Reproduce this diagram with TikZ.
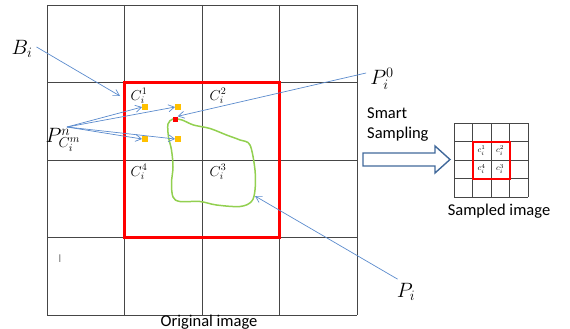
\documentclass[tikz,border=0pt]{standalone}
\usepackage{fontspec}
\setmainfont{Carlito}
\usepackage{xcolor}
\usetikzlibrary{arrows.meta, positioning, calc}

\definecolor{ptrblue}{RGB}{91,139,205}
\definecolor{arrowblue}{RGB}{65,105,155}
\definecolor{dotyellow}{RGB}{255,192,0}
\definecolor{curvegreen}{RGB}{146,208,80}
\definecolor{gridgray}{RGB}{70,70,70}

\begin{document}
\begin{tikzpicture}[
    x=1pt, y=-1pt,
    cellline/.style={draw=gridgray, line width=0.9pt},
    redbox/.style={draw=red, line width=2.4pt},
    ptr/.style={draw=ptrblue, line width=0.7pt, -{Straight Barb[length=6pt,width=7pt]}},
    dot/.style={rectangle, fill=dotyellow, inner sep=0pt, minimum size=5.5pt},
    mlabel/.style={inner sep=1pt, font=\fontsize{21}{23}\selectfont},
    clabel/.style={inner sep=0pt, font=\fontsize{14}{16}\selectfont},
    slabel/.style={inner sep=0pt, font=\fontsize{8}{9}\selectfont},
    caption/.style={inner sep=0pt, font=\fontsize{16.5}{20}\selectfont},
    blockarrow/.style={draw=arrowblue, line width=1.4pt, fill=white}
]
\useasboundingbox (0,0) rectangle (570,329);

% original image grid
\foreach \k in {0,...,4} {
  \draw[cellline] (47+77.5*\k,5) -- (47+77.5*\k,315);
  \draw[cellline] (47,5+77.5*\k) -- (357,5+77.5*\k);
}
\draw[redbox] (124.5,82.5) rectangle (279.5,237.5);

\node[clabel] (c1) at (139,96) {$C_i^1$};
\node[clabel] (c2) at (218,96) {$C_i^2$};
\node[clabel] (c4) at (139,172) {$C_i^4$};
\node[clabel] (c3) at (218,172) {$C_i^3$};

% object contour
\draw[curvegreen, line width=1.5pt] plot[smooth cycle, tension=0.55] coordinates {
  (173,119) (168,124) (168.5,137) (171.5,150) (173,167) (171.5,183) (173,197)
  (180,201.5) (200,201.5) (216.5,205) (240,206.5) (251.5,201.5) (255,190)
  (255,170) (250,145) (240,140) (226.5,135) (210,128.5) (193.5,125) (182,120)};
\coordinate (pitip) at (255,196);

% sampling points
\node[dot] (q1) at (145,107) {};
\node[dot] (q2) at (178,107) {};
\node[dot] (q4) at (145,139) {};
\node[dot] (q3) at (178,139) {};
\node[rectangle, fill=red, inner sep=0pt, minimum size=5pt] (r0) at (175,119) {};

% labels and pointers
\node[mlabel] (bi) at (22,49) {$B_i$};
\coordinate (bitip) at (120,96);
\path[ptr] ([xshift=3pt,yshift=2pt]bi.east) -- (bitip);

\node[mlabel] (pcn) at (63,140) {$P^{n}_{C_i^m}$};
\coordinate (fan) at (67,127);
\path[ptr] (fan) -- (q1.west);
\path[ptr] (fan) -- (q2.west);
\path[ptr] (fan) -- (q4.west);
\path[ptr] (fan) -- (q3.west);

\node[mlabel] (p0) at (382,79) {$P_i^0$};
\path[ptr] ([shift={(-3pt,6pt)}]p0.west) -- (r0.north east);

\node[mlabel] (pi) at (406,292) {$P_i$};
\path[ptr] ([shift={(2pt,3pt)}]pi.north west) -- (pitip);

\node[inner sep=0pt, text=gray, font=\fontsize{12}{13}\selectfont] (cursor) at (60,259) {I};

\node[caption, anchor=base] (orig) at (209,326) {Original image};

% smart sampling arrow
\node[caption, align=left, anchor=north west] (smart) at (367,108) {Smart\\Sampling};
\draw[blockarrow] (363,153) -- (435,153) -- (435,146) -- (450,159.5)
  -- (435,173) -- (435,166) -- (363,166) -- cycle;

% sampled image grid
\foreach \k in {0,...,4} {
  \draw[gridgray, line width=0.8pt] (454+18.5*\k,123) -- (454+18.5*\k,197);
  \draw[gridgray, line width=0.8pt] (454,123+18.5*\k) -- (528,123+18.5*\k);
}
\draw[red, line width=2pt] (472.5,141.5) rectangle (509.5,178.5);
\node[slabel] (s1) at (481.5,150.5) {$c_i^1$};
\node[slabel] (s2) at (500,150.5) {$c_i^2$};
\node[slabel] (s4) at (481.5,169) {$c_i^4$};
\node[slabel] (s3) at (500,169) {$c_i^3$};
\node[caption, anchor=base] (samp) at (499,215) {Sampled image};
\end{tikzpicture}
\end{document}
